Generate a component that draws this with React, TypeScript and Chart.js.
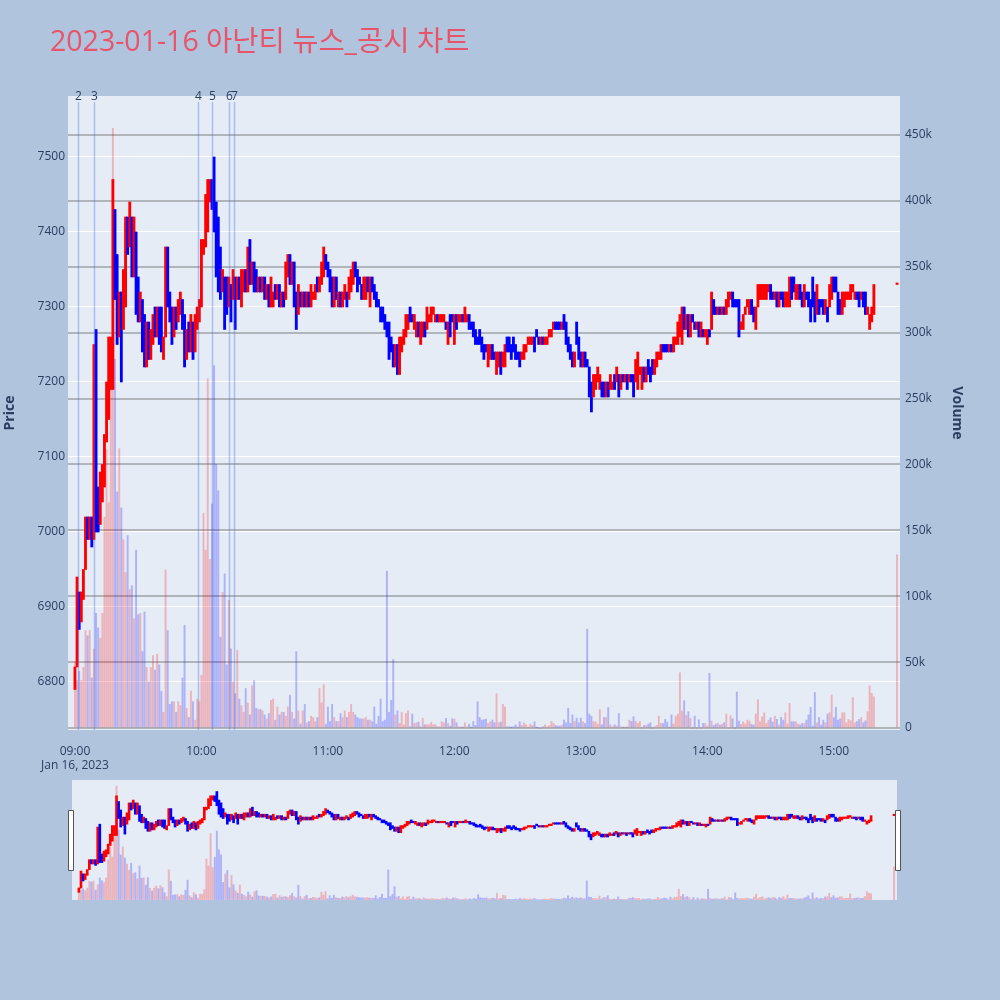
import React, { useEffect, useRef } from "react";
import { Chart, registerables } from "chart.js";

Chart.register(...registerables);

// ---- chart text ----
const chartTitle = "2023-01-16 아난티 뉴스_공시 차트";
const dateLabel = "Jan 16, 2023";
const hourMinutes = [0, 60, 120, 180, 240, 300, 360];
const hourLabels = ["09:00", "10:00", "11:00", "12:00", "13:00", "14:00", "15:00"];
const priceTicks = [6800, 6900, 7000, 7100, 7200, 7300, 7400, 7500];
const volumeTicksK = [0, 50, 100, 150, 200, 250, 300, 350, 400, 450];

// ---- one-minute candles, index = minutes after 09:00 ----
const opens = [
  6790, 6820, 6920, 6880, 6910, 6950, 7020, 6990, 7020, 6990,
  7270, 7060, 7010, 7040, 7060, 7120, 7150, 7190, 7190, 7430,
  7370, 7260, 7320, 7270, 7300, 7420, 7380, 7420, 7340, 7400,
  7340, 7280, 7310, 7290, 7220, 7280, 7230, 7250, 7300, 7260,
  7300, 7300, 7230, 7260, 7380, 7320, 7300, 7260, 7300, 7280,
  7290, 7310, 7290, 7230, 7280, 7240, 7280, 7240, 7270, 7280,
  7300, 7370, 7380, 7400, 7440, 7470, 7500, 7440, 7420, 7380,
  7320, 7340, 7340, 7300, 7330, 7310, 7340, 7310, 7340, 7300,
  7320, 7350, 7320, 7390, 7330, 7360, 7350, 7320, 7340, 7320,
  7340, 7310, 7330, 7300, 7300, 7330, 7310, 7330, 7300, 7320,
  7310, 7340, 7370, 7330, 7360, 7320, 7290, 7320, 7300, 7320,
  7300, 7320, 7300, 7310, 7310, 7340, 7320, 7330, 7340, 7370,
  7360, 7350, 7340, 7300, 7340, 7300, 7320, 7300, 7310, 7320,
  7310, 7320, 7330, 7360, 7350, 7340, 7330, 7310, 7310, 7340,
  7300, 7340, 7330, 7320, 7310, 7300, 7300, 7290, 7280, 7280,
  7260, 7250, 7220, 7250, 7210, 7240, 7250, 7260, 7270, 7300,
  7290, 7270, 7260, 7280, 7250, 7260, 7280, 7270, 7280, 7280,
  7290, 7280, 7290, 7280, 7280, 7280, 7280, 7250, 7290, 7290,
  7250, 7290, 7280, 7280, 7290, 7280, 7280, 7290, 7280, 7280,
  7270, 7260, 7270, 7260, 7250, 7250, 7220, 7230, 7250, 7240,
  7210, 7220, 7240, 7220, 7220, 7260, 7260, 7250, 7260, 7250,
  7240, 7240, 7230, 7230, 7240, 7250, 7250, 7250, 7260, 7270,
  7260, 7250, 7260, 7250, 7250, 7260, 7260, 7270, 7280, 7280,
  7280, 7270, 7290, 7280, 7260, 7250, 7240, 7220, 7280, 7260,
  7240, 7220, 7240, 7230, 7220, 7200, 7180, 7190, 7200, 7190,
  7200, 7200, 7180, 7200, 7190, 7190, 7210, 7200, 7210, 7190,
  7210, 7200, 7210, 7200, 7210, 7210, 7200, 7190, 7210, 7190,
  7220, 7200, 7230, 7220, 7230, 7210, 7220, 7230, 7230, 7250,
  7250, 7250, 7240, 7250, 7240, 7250, 7250, 7260, 7250, 7300,
  7270, 7290, 7260, 7290, 7280, 7270, 7280, 7260, 7270, 7260,
  7250, 7270, 7270, 7310, 7300, 7290, 7300, 7290, 7300, 7290,
  7300, 7310, 7320, 7310, 7310, 7310, 7270, 7270, 7290, 7300,
  7290, 7310, 7300, 7270, 7300, 7310, 7310, 7310, 7310, 7320,
  7330, 7320, 7310, 7320, 7300, 7320, 7320, 7300, 7300, 7300,
  7340, 7340, 7310, 7310, 7330, 7320, 7300, 7320, 7320, 7310,
  7340, 7320, 7290, 7310, 7310, 7310, 7290, 7300, 7300, 7310,
  7340, 7340, 7320, 7310, 7290, 7300, 7310, 7310, 7310, 7320,
  7310, 7320, 7320, 7310, 7320, 7320, 7290, 7270, 7280, 7290,
];

const closes = [
  6820, 6940, 6870, 6920, 6950, 7020, 6990, 7020, 6980, 7250,
  7000, 7000, 7080, 7090, 7130, 7200, 7260, 7260, 7470, 7310,
  7250, 7320, 7200, 7350, 7420, 7370, 7440, 7340, 7420, 7290,
  7280, 7320, 7240, 7220, 7280, 7230, 7270, 7290, 7260, 7300,
  7250, 7240, 7260, 7380, 7300, 7280, 7250, 7300, 7270, 7310,
  7320, 7270, 7220, 7270, 7240, 7290, 7230, 7290, 7300, 7310,
  7390, 7390, 7450, 7470, 7470, 7430, 7400, 7340, 7320, 7310,
  7350, 7270, 7290, 7340, 7280, 7350, 7270, 7340, 7310, 7350,
  7350, 7320, 7380, 7330, 7360, 7320, 7320, 7340, 7320, 7340,
  7310, 7330, 7300, 7340, 7320, 7310, 7330, 7300, 7320, 7300,
  7360, 7370, 7330, 7360, 7300, 7270, 7330, 7300, 7320, 7300,
  7320, 7300, 7330, 7320, 7330, 7320, 7340, 7360, 7380, 7350,
  7340, 7320, 7300, 7340, 7310, 7320, 7300, 7320, 7330, 7300,
  7340, 7350, 7360, 7340, 7320, 7330, 7310, 7340, 7340, 7320,
  7340, 7320, 7310, 7300, 7300, 7280, 7280, 7270, 7260, 7230,
  7240, 7220, 7250, 7210, 7260, 7260, 7270, 7290, 7290, 7280,
  7280, 7290, 7280, 7260, 7280, 7280, 7260, 7300, 7290, 7300,
  7300, 7290, 7280, 7290, 7290, 7290, 7270, 7280, 7260, 7280,
  7290, 7270, 7290, 7290, 7280, 7300, 7290, 7270, 7270, 7260,
  7250, 7250, 7250, 7240, 7230, 7240, 7250, 7250, 7230, 7230,
  7240, 7240, 7210, 7240, 7250, 7240, 7240, 7230, 7240, 7230,
  7230, 7220, 7240, 7250, 7250, 7260, 7260, 7260, 7240, 7260,
  7250, 7260, 7250, 7260, 7260, 7270, 7270, 7280, 7270, 7270,
  7270, 7280, 7270, 7250, 7240, 7230, 7220, 7240, 7250, 7230,
  7220, 7240, 7220, 7220, 7180, 7160, 7210, 7210, 7220, 7210,
  7180, 7180, 7200, 7180, 7210, 7200, 7190, 7220, 7180, 7210,
  7200, 7210, 7190, 7210, 7200, 7180, 7230, 7240, 7220, 7220,
  7200, 7220, 7210, 7200, 7210, 7230, 7240, 7240, 7250, 7240,
  7240, 7240, 7250, 7240, 7260, 7260, 7280, 7290, 7300, 7270,
  7290, 7260, 7290, 7280, 7270, 7280, 7260, 7280, 7260, 7270,
  7270, 7260, 7320, 7290, 7290, 7300, 7290, 7300, 7290, 7310,
  7320, 7320, 7300, 7300, 7300, 7260, 7280, 7290, 7300, 7310,
  7310, 7290, 7280, 7300, 7330, 7330, 7330, 7330, 7330, 7330,
  7310, 7310, 7320, 7300, 7320, 7310, 7300, 7320, 7320, 7340,
  7310, 7320, 7330, 7330, 7310, 7300, 7330, 7310, 7300, 7280,
  7300, 7280, 7330, 7290, 7300, 7290, 7310, 7280, 7330, 7340,
  7320, 7320, 7290, 7290, 7320, 7320, 7320, 7320, 7330, 7330,
  7320, 7310, 7300, 7320, 7300, 7290, 7300, 7290, 7300, 7330,
];

// traded volume per minute, thousands of shares
const volumesK = [
  50, 36, 43, 36, 46, 74, 70, 74, 38, 60,
  87, 76, 68, 87, 160, 211, 171, 260, 455, 280,
  179, 212, 167, 143, 118, 146, 105, 108, 83, 135,
  86, 87, 58, 88, 46, 35, 46, 55, 44, 56,
  48, 28, 12, 120, 74, 18, 20, 20, 12, 20,
  17, 38, 78, 15, 8, 28, 20, 6, 22, 20,
  40, 163, 135, 265, 128, 170, 275, 200, 180, 69,
  103, 117, 48, 97, 60, 35, 26, 59, 22, 17,
  12, 30, 19, 10, 32, 36, 15, 14, 14, 13,
  10, 7, 11, 21, 22, 6, 16, 10, 12, 12,
  9, 16, 25, 12, 7, 58, 13, 3, 13, 18,
  4, 5, 9, 8, 5, 8, 30, 19, 33, 3,
  16, 5, 18, 8, 5, 5, 11, 8, 13, 8,
  12, 18, 12, 10, 8, 7, 7, 7, 8, 6,
  6, 5, 16, 3, 9, 22, 5, 6, 119, 12,
  21, 52, 10, 13, 3.5, 12, 2.3, 11, 13, 1,
  10.6, 3.5, 4, 4.5, 1, 7.3, 2.5, 2.5, 2.5, 4.3,
  2.5, 2.5, 1, 1, 4.8, 4, 7.3, 3.5, 1.5, 7,
  6.8, 4, 1, 0.5, 0.5, 4, 1, 3, 0.5, 5,
  2, 20, 8, 6, 6.3, 6.8, 3.5, 4.8, 6, 4,
  26, 4, 4.5, 18, 16, 1, 1, 0.3, 1, 2.5,
  0.5, 4.8, 2, 4, 2.5, 0.5, 3, 2, 4.8, 0.3,
  0, 0, 1, 2.5, 1, 2, 5, 3.5, 2, 1.5,
  1.5, 2.3, 6, 4, 15, 3.5, 10, 5, 7.6, 4,
  7.6, 4.8, 3.5, 75, 10.6, 9, 5, 4.8, 3, 14,
  2.5, 8, 8, 15.6, 2.5, 1, 2.5, 1.5, 11, 1,
  0.5, 0.5, 0.5, 6, 5, 8.6, 5, 3.5, 5, 0,
  2, 2, 3, 4, 0, 1, 2, 9, 3.5, 3.5,
  6.6, 4.5, 0.5, 10, 3, 9, 10.5, 42, 13, 20.8,
  9.6, 12.4, 7.3, 0, 9, 0, 6.3, 0, 3.5, 3.5,
  1.5, 41.5, 5.3, 1.8, 3, 3.5, 2.3, 3, 4, 10.6,
  0, 9.4, 7, 0, 27.3, 5.3, 2.8, 4.8, 3, 6,
  5.3, 2.8, 2.3, 10.6, 21.5, 4.8, 8.6, 11.6, 3.5, 6,
  7.8, 4.5, 9, 6.6, 2.3, 8.1, 6, 11.6, 3, 18.7,
  4.8, 4.8, 4.8, 3, 2.3, 3.5, 3.5, 6, 10, 15.8,
  1.5, 27, 4, 8, 2.3, 6, 4, 10.6, 11.6, 25,
  8, 15.8, 6, 7, 11.6, 11.6, 4, 6.5, 5.5, 23,
  4, 4.8, 6.5, 8, 4, 5.5, 12.4, 32, 26.3, 23.7,
];

// 15:30 closing auction print
const closingAuction = { minute: 390, open: 7330, close: 7330, volumeK: 131.5 };

// news / disclosure times (minutes after 09:00) and their numbers
const newsMinutes = [1.5, 9, 58.5, 65, 73, 75.5];
const newsLabels = ["2", "3", "4", "5", "6", "7"];

// ---- axis ranges ----
const minuteRange = { min: -3.3, max: 391.4 };
const priceRange = { min: 6736, max: 7581.3 };
const volumeRange = { min: -1.5, max: 479.5 };

// ---- styling ----
const FONT = '"Open Sans", "Noto Sans CJK KR", sans-serif';
const TEXT = "#2a3f5f";
const PLOT_BG = "#e5ecf6";
const PAGE_BG = "#b0c4de";
const UP = "#ff0000";
const DOWN = "#0000ff";
const UP_VOL = "rgba(255, 0, 0, 0.24)";
const DOWN_VOL = "rgba(0, 0, 255, 0.24)";

type Candle = { t: number; o: number; c: number; v: number };

const candles: Candle[] = opens.map((o, i) => ({ t: i, o, c: closes[i], v: volumesK[i] }));
candles.push({
  t: closingAuction.minute,
  o: closingAuction.open,
  c: closingAuction.close,
  v: closingAuction.volumeK,
});

function makeDatasets(bodyWidth: number, volWidth: number): any[] {
  return [
    {
      type: "bar",
      label: "price",
      yAxisID: "yPrice",
      data: candles.map((d) => ({ x: d.t, y: [d.o, d.c] })),
      backgroundColor: candles.map((d) => (d.c >= d.o ? UP : DOWN)),
      borderWidth: 0,
      barThickness: bodyWidth,
      minBarLength: 1.5,
      grouped: false,
      order: 0,
    },
    {
      type: "bar",
      label: "volume",
      yAxisID: "yVol",
      data: candles.map((d) => ({ x: d.t, y: d.v })),
      backgroundColor: candles.map((d) => (d.c >= d.o ? UP_VOL : DOWN_VOL)),
      borderWidth: 0,
      barThickness: volWidth,
      grouped: false,
      order: 1,
    },
  ];
}

const plotBackground = {
  id: "plotBackground",
  beforeDraw(chart: any) {
    const { ctx, chartArea: a } = chart;
    ctx.save();
    ctx.fillStyle = PLOT_BG;
    ctx.fillRect(a.left, a.top, a.right - a.left, a.bottom - a.top);
    ctx.restore();
  },
};

const newsMarkers = {
  id: "newsMarkers",
  afterDatasetsDraw(chart: any) {
    const { ctx, chartArea: a, scales } = chart;
    ctx.save();
    newsMinutes.forEach((m, i) => {
      const x = Math.round(scales.x.getPixelForValue(m)) + 0.5;
      ctx.strokeStyle = "rgba(65, 105, 225, 0.35)";
      ctx.lineWidth = 1.5;
      ctx.beginPath();
      ctx.moveTo(x, a.top + 6);
      ctx.lineTo(x, a.bottom);
      ctx.stroke();
      ctx.fillStyle = TEXT;
      ctx.font = `12px ${FONT}`;
      ctx.textAlign = "center";
      ctx.textBaseline = "middle";
      ctx.fillText(newsLabels[i], x, a.top + 1);
    });
    ctx.restore();
  },
};

const sliderHandles = {
  id: "sliderHandles",
  afterDraw(chart: any) {
    const { ctx, chartArea: a } = chart;
    const mid = (a.top + a.bottom) / 2;
    ctx.save();
    ctx.fillStyle = "#ffffff";
    ctx.strokeStyle = "#555555";
    ctx.lineWidth = 1;
    [a.left - 1.5, a.right].forEach((cx) => {
      ctx.beginPath();
      ctx.rect(Math.round(cx - 2.5) + 0.5, Math.round(mid - 30) + 0.5, 5, 60);
      ctx.fill();
      ctx.stroke();
    });
    ctx.restore();
  },
};

function mainConfig(): any {
  return {
    type: "bar",
    data: { datasets: makeDatasets(2.2, 1.3) },
    plugins: [plotBackground, newsMarkers],
    options: {
      responsive: false,
      animation: false,
      devicePixelRatio: 1,
      events: [],
      layout: { padding: { top: 96, right: 35, left: 0, bottom: 0 } },
      plugins: { legend: { display: false }, tooltip: { enabled: false } },
      scales: {
        x: {
          type: "linear",
          min: minuteRange.min,
          max: minuteRange.max,
          offset: false,
          afterBuildTicks: (axis: any) => {
            axis.ticks = hourMinutes.map((v) => ({ value: v }));
          },
          afterFit: (s: any) => {
            s.height = 45;
          },
          ticks: {
            autoSkip: false,
            maxRotation: 0,
            padding: 6,
            color: TEXT,
            font: { family: FONT, size: 12 },
            callback: (v: number) => {
              const idx = hourMinutes.indexOf(v);
              return idx === 0 ? [hourLabels[0], dateLabel] : hourLabels[idx];
            },
          },
          grid: { display: false },
          border: { display: false },
        },
        yPrice: {
          type: "linear",
          position: "left",
          min: priceRange.min,
          max: priceRange.max,
          afterBuildTicks: (axis: any) => {
            axis.ticks = priceTicks.map((v) => ({ value: v }));
          },
          afterFit: (s: any) => {
            s.width = 68;
          },
          ticks: {
            padding: 3,
            color: TEXT,
            font: { family: FONT, size: 12 },
            callback: (v: number) => String(v),
          },
          grid: { color: "#ffffff", lineWidth: 1, drawTicks: false },
          border: { display: false },
          title: {
            display: true,
            text: "Price",
            color: TEXT,
            font: { family: FONT, size: 14, weight: "bold" },
            padding: { top: 2, bottom: 0 },
          },
        },
        yVol: {
          type: "linear",
          position: "right",
          min: volumeRange.min,
          max: volumeRange.max,
          afterBuildTicks: (axis: any) => {
            axis.ticks = volumeTicksK.map((v) => ({ value: v }));
          },
          afterFit: (s: any) => {
            s.width = 65;
          },
          ticks: {
            padding: 5,
            color: TEXT,
            font: { family: FONT, size: 12 },
            callback: (v: number) => (v === 0 ? "0" : `${v}k`),
          },
          grid: { color: "#b0b4bb", lineWidth: 2, drawTicks: false },
          border: { display: false },
          title: {
            display: true,
            text: "Volume",
            color: TEXT,
            font: { family: FONT, size: 14, weight: "bold" },
            padding: { top: 0, bottom: 4 },
          },
        },
      },
    },
  };
}

function sliderConfig(): any {
  return {
    type: "bar",
    data: { datasets: makeDatasets(2, 1.3) },
    plugins: [plotBackground, sliderHandles],
    options: {
      responsive: false,
      animation: false,
      devicePixelRatio: 1,
      events: [],
      layout: { padding: { top: 5, right: 103, left: 72, bottom: 10 } },
      plugins: { legend: { display: false }, tooltip: { enabled: false } },
      scales: {
        x: { type: "linear", display: false, min: minuteRange.min, max: minuteRange.max, offset: false },
        yPrice: { type: "linear", display: false, min: priceRange.min, max: priceRange.max },
        yVol: { type: "linear", display: false, min: volumeRange.min, max: volumeRange.max },
      },
    },
  };
}

export default function App() {
  const mainRef = useRef<HTMLCanvasElement>(null);
  const sliderRef = useRef<HTMLCanvasElement>(null);

  useEffect(() => {
    const main = new Chart(mainRef.current as HTMLCanvasElement, mainConfig());
    const slider = new Chart(sliderRef.current as HTMLCanvasElement, sliderConfig());
    return () => {
      main.destroy();
      slider.destroy();
    };
  }, []);

  return (
    <div
      style={{
        position: "absolute",
        left: 0,
        top: 0,
        width: 1000,
        height: 1000,
        background: PAGE_BG,
        overflow: "hidden",
        fontFamily: FONT,
      }}
    >
      <canvas ref={mainRef} width={1000} height={775} style={{ position: "absolute", left: 0, top: 0 }} />
      <canvas ref={sliderRef} width={1000} height={135} style={{ position: "absolute", left: 0, top: 775 }} />
      <div
        style={{
          position: "absolute",
          left: 50,
          top: 21,
          fontSize: 28.5,
          lineHeight: "38px",
          color: "#e8546a",
          whiteSpace: "nowrap",
        }}
      >
        {chartTitle}
      </div>
    </div>
  );
}
